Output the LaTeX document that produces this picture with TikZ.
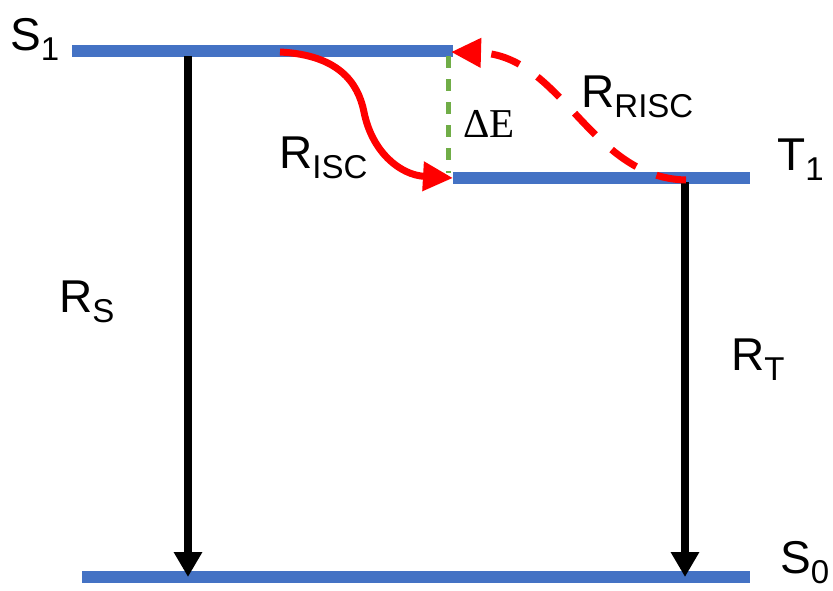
\documentclass[tikz,border=0pt]{standalone}
\usepackage{fontspec}
\setmainfont{Liberation Sans}
\newfontfamily\dEfont{Liberation Serif}
\usetikzlibrary{arrows.meta}
\definecolor{lvlblue}{HTML}{4472C4}
\definecolor{rred}{HTML}{FF0000}
\definecolor{dgreen}{HTML}{70AD47}
\newcommand{\lab}[2]{#1\raisebox{-10pt}{\fontsize{33}{33}\selectfont #2}}
\begin{document}
\begin{tikzpicture}[x=1pt,y=-1pt,
  level/.style={draw=lvlblue,line width=12pt},
  decay/.style={draw=black,line width=8.5pt,-{Triangle[width=27pt,length=25pt]}},
  isc/.style={draw=rred,line width=7pt,-{Triangle[width=28pt,length=30pt]}},
  risc/.style={isc,dash pattern=on 30pt off 22pt},
  gap/.style={draw=dgreen,line width=5pt,dash pattern=on 12pt off 11pt},
  lbl/.style={anchor=base west,inner sep=0pt,font=\fontsize{46}{46}\selectfont}]
\useasboundingbox (0,0) rectangle (833,590);
% level end points
\coordinate (s1L) at (72,51);
\coordinate (s1R) at (453,51);
\coordinate (t1L) at (453,178);
\coordinate (t1R) at (750,178);
\coordinate (s0L) at (82,577);
\coordinate (s0R) at (750,577);
% connector end points
\coordinate (rsTop) at (188,56);
\coordinate (rsBot) at (188,577);
\coordinate (rtTop) at (685,182);
\coordinate (rtBot) at (685,577);
\coordinate (gTop) at (448,56);
\coordinate (gBot) at (448,173);
\coordinate (iscA) at (280,52);
\coordinate (riscA) at (686,180);
\coordinate (riscB) at (451,52);
% levels
\draw[level] (s1L) -- (s1R);
\draw[level] (t1L) -- (t1R);
\draw[level] (s0L) -- (s0R);
% energy gap
\draw[gap] (gTop) -- (gBot);
% decays
\draw[decay] (rsTop) -- (rsBot);
\draw[decay] (rtTop) -- (rtBot);
% ISC and RISC
\draw[isc] (iscA) .. controls (338,55) and (358,82) .. (364,112)
  .. controls (372,152) and (400,175) .. (t1L);
\draw[risc] (riscA) .. controls (590,178) and (562,55) .. (riscB);
% labels
\node[lbl] (S1) at (10,50) {\lab{S}{1}};
\node[lbl] (T1) at (777,170) {\lab{T}{1}};
\node[lbl] (S0) at (780,573) {\lab{S}{0}};
\node[lbl] (RS) at (59,312) {\lab{R}{S}};
\node[lbl] (RT) at (731,370) {\lab{R}{T}};
\node[lbl] (RISC) at (279,168) {\lab{R}{ISC}};
\node[lbl] (RRISC) at (581,107) {\lab{R}{RISC}};
\node[anchor=base west,inner sep=0pt,font=\dEfont\fontsize{41}{41}\selectfont] (dE) at (463,137) {ΔE};
\end{tikzpicture}
\end{document}
